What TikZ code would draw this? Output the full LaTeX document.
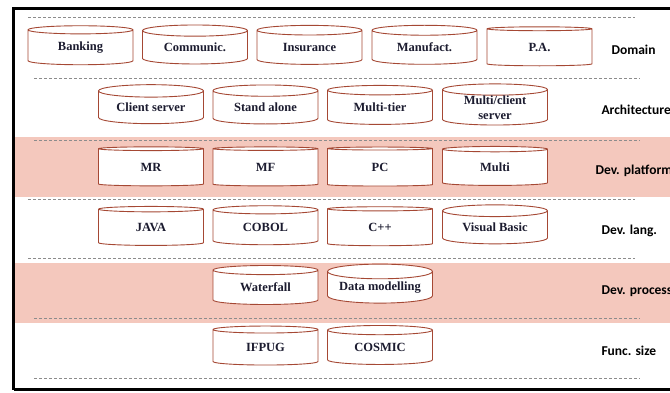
\documentclass[tikz,border=0pt]{standalone}
\usepackage{fontspec}
\setmainfont{Liberation Serif}
\newfontfamily\layerfont{Carlito}
\usetikzlibrary{shapes.geometric}
\definecolor{dbline}{RGB}{165,72,52}
\definecolor{bandfill}{RGB}{244,200,189}
\definecolor{dbtext}{RGB}{28,28,48}
\definecolor{sepgray}{RGB}{140,140,140}
\tikzset{
  db/.style={cylinder, shape border rotate=90, aspect=0.18, draw=dbline,
    line width=0.9pt, fill=white, minimum width=105pt, minimum height=39pt,
    inner sep=0pt, align=center, text=dbtext,
    font=\fontsize{12.5}{15}\selectfont\bfseries},
  layer/.style={anchor=west, font=\layerfont\fontsize{13.5}{16}\selectfont\bfseries},
  sep/.style={draw=sepgray, line width=0.8pt, dash pattern=on 3pt off 2pt},
  band/.style={fill=bandfill, draw=none}
}
\begin{document}
\begin{tikzpicture}[x=1pt,y=-1pt]
	\useasboundingbox (0,0) rectangle (670,392);
	\clip (0,0) rectangle (670,392);
	%Coloured bands behind the platform and process rows
	\fill[band] (15,137) rectangle (680,197);
	\fill[band] (15,263) rectangle (680,323);
	%Dashed separators
	\foreach \i/\y/\xl/\xr in {1/17/28/635,2/78/34/640,3/140/34/640,4/199/28/635,5/258/28/635,6/318/34/640,7/378/34/640} {
		\coordinate (sepL\i) at (\xl,\y);
		\coordinate (sepR\i) at (\xr,\y);
		\draw[sep] (sepL\i) -- (sepR\i);
	}
	%Outer frame
	\draw[line width=2.6pt] (13.5,389.5) -- (13.5,8.5) -- (700,8.5);
	\draw[line width=2.6pt] (13.5,389.5) -- (700,389.5);
	%Domain row
	\foreach \name/\x/\txt in {bank/80.5/Banking,comm/195/Communic.,ins/309.5/Insurance,manu/424.5/Manufact.,pa/539.5/P.A.} {
		\node[db] (\name) at (\x,47.5) {\txt};
	}
	\node[layer] (domain) at (608,50) {Domain};
	%Architecture row
	\node[db] (clsrv) at (151,107.5) {Client server};
	\node[db] (stand) at (265.5,107.5) {Stand alone};
	\node[db] (mtier) at (380,107.5) {Multi-tier};
	\node[db] (mclient) at (495,107.5) {Multi/client\\server};
	\node[layer] (arch) at (598,110) {Architecture};
	%Dev. platform row
	\foreach \name/\x/\txt in {mr/151/MR,mf/265.5/MF,pc/380/PC,multi/495/Multi} {
		\node[db] (\name) at (\x,167.5) {\txt};
	}
	\node[layer] (platform) at (592,171) {Dev. platform};
	%Dev. lang. row
	\foreach \name/\x/\txt in {java/151/JAVA,cobol/265.5/COBOL,cpp/380/C++,vb/495/Visual Basic} {
		\node[db] (\name) at (\x,227.5) {\txt};
	}
	\node[layer] (lang) at (598,231) {Dev. lang.};
	%Dev. process row
	\node[db] (water) at (265.5,287.5) {Waterfall};
	\node[db] (datamod) at (380,287.5) {Data modelling};
	\node[layer] (process) at (598,291) {Dev. process};
	%Func. size row
	\node[db] (ifpug) at (265.5,347.5) {IFPUG};
	\node[db] (cosmic) at (380,347.5) {COSMIC};
	\node[layer] (fsize) at (598,351) {Func. size};
\end{tikzpicture}
\end{document}
